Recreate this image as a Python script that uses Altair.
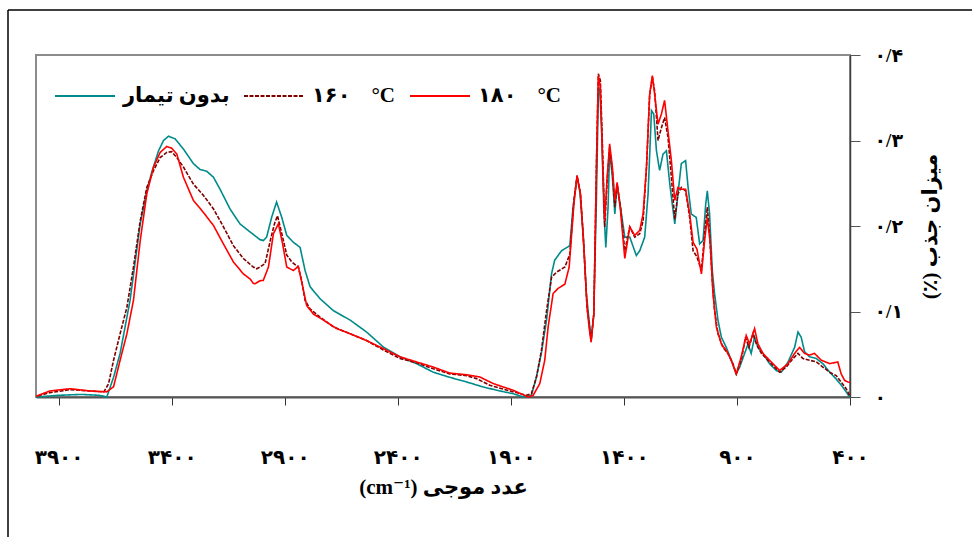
import altair as alt
import pandas as pd

# Absorbance spectra (wavenumber in cm-1, absorbance) for the three samples
WN_NONE = [4000, 3900, 3800, 3720, 3687, 3657, 3628, 3584, 3539, 3510, 3488, 3458, 3436, 3414, 3385, 3348,
           3304, 3274, 3245, 3215, 3186, 3142, 3098, 3053, 3009, 2994, 2980, 2958, 2936, 2913, 2891, 2862,
           2832, 2810, 2788, 2744, 2685, 2611, 2538, 2464, 2390, 2317, 2243, 2170, 2096, 2022, 1949, 1890,
           1845, 1809, 1787, 1765, 1742, 1720, 1706, 1676, 1639, 1625, 1607, 1595, 1580, 1566, 1554, 1545,
           1533, 1521, 1513, 1507, 1499, 1489, 1480, 1470, 1463, 1451, 1440, 1430, 1415, 1396, 1374, 1345,
           1330, 1308, 1293, 1278, 1268, 1256, 1242, 1227, 1212, 1197, 1175, 1161, 1146, 1127, 1116, 1102,
           1080, 1065, 1050, 1038, 1031, 1021, 1009, 999, 984, 969, 947, 925, 903, 888, 866, 851, 837, 822,
           807, 785, 756, 726, 704, 674, 645, 630, 616, 601, 579, 549, 520, 490, 461, 439, 417, 402]
ABS_NONE = [0.0, 0.002, 0.003, 0.002, 0.0, 0.023, 0.051, 0.113, 0.2025, 0.241, 0.263, 0.288, 0.300, 0.305,
            0.302, 0.290, 0.273, 0.266, 0.264, 0.257, 0.243, 0.220, 0.2025, 0.193, 0.184, 0.183, 0.187, 0.210,
            0.228, 0.210, 0.189, 0.181, 0.175, 0.148, 0.129, 0.115, 0.101, 0.090, 0.076, 0.0585, 0.047, 0.039,
            0.029, 0.023, 0.0176, 0.0117, 0.0071, 0.0039, 0.0, 0.002, 0.023, 0.051, 0.090, 0.144, 0.160, 0.171,
            0.177, 0.222, 0.257, 0.241, 0.191, 0.121, 0.090, 0.066, 0.097, 0.2375, 0.354, 0.362, 0.315, 0.222,
            0.175, 0.222, 0.288, 0.257, 0.214, 0.249, 0.222, 0.187, 0.187, 0.1655, 0.171, 0.187, 0.2375, 0.335,
            0.331, 0.288, 0.265, 0.284, 0.288, 0.249, 0.2025, 0.2375, 0.273, 0.2765, 0.245, 0.214, 0.210, 0.179,
            0.183, 0.226, 0.241, 0.214, 0.148, 0.121, 0.090, 0.070, 0.058, 0.043, 0.027, 0.035, 0.051, 0.062,
            0.051, 0.070, 0.058, 0.051, 0.039, 0.031, 0.029, 0.041, 0.058, 0.076, 0.070, 0.053, 0.047, 0.045,
            0.039, 0.029, 0.021, 0.014, 0.006, 0.0]

WN_160 = [4000, 3940, 3850, 3760, 3700, 3679, 3657, 3628, 3598, 3569, 3539, 3510, 3480, 3451, 3422, 3400,
          3377, 3348, 3304, 3260, 3215, 3171, 3127, 3083, 3039, 3024, 3009, 2987, 2980, 2962, 2945, 2932,
          2913, 2891, 2869, 2840, 2825, 2810, 2788, 2744, 2685, 2611, 2538, 2464, 2390, 2317, 2243, 2170,
          2096, 2052, 1993, 1904, 1831, 1809, 1787, 1765, 1742, 1720, 1698, 1661, 1639, 1621, 1607, 1592,
          1577, 1563, 1554, 1545, 1533, 1521, 1513, 1504, 1495, 1485, 1474, 1463, 1451, 1440, 1430, 1415,
          1396, 1374, 1352, 1330, 1315, 1300, 1286, 1274, 1264, 1249, 1234, 1220, 1205, 1190, 1175, 1161,
          1146, 1127, 1109, 1094, 1077, 1057, 1043, 1031, 1021, 1009, 999, 984, 962, 940, 918, 903, 881,
          862, 847, 829, 814, 792, 763, 733, 711, 682, 652, 630, 608, 579, 549, 520, 490, 461, 439, 417, 402]
ABS_160 = [0.0008, 0.005, 0.0086, 0.007, 0.006, 0.0156, 0.043, 0.074, 0.105, 0.152, 0.206, 0.245, 0.265,
           0.280, 0.286, 0.287, 0.280, 0.269, 0.249, 0.236, 0.220, 0.199, 0.177, 0.162, 0.152, 0.150, 0.152,
           0.156, 0.164, 0.185, 0.203, 0.212, 0.191, 0.166, 0.158, 0.152, 0.136, 0.113, 0.103, 0.0935, 0.082,
           0.074, 0.066, 0.055, 0.045, 0.040, 0.033, 0.027, 0.025, 0.0215, 0.0137, 0.0071, 0.0021, 0.004,
           0.023, 0.054, 0.101, 0.140, 0.146, 0.152, 0.167, 0.230, 0.259, 0.2375, 0.175, 0.105, 0.086, 0.066,
           0.097, 0.2765, 0.378, 0.370, 0.296, 0.199, 0.253, 0.292, 0.265, 0.222, 0.249, 0.222, 0.171, 0.199,
           0.187, 0.191, 0.206, 0.269, 0.354, 0.374, 0.358, 0.300, 0.315, 0.327, 0.304, 0.257, 0.208, 0.2375,
           0.245, 0.241, 0.210, 0.171, 0.164, 0.148, 0.191, 0.222, 0.191, 0.136, 0.101, 0.074, 0.058, 0.051,
           0.039, 0.027, 0.043, 0.070, 0.058, 0.074, 0.062, 0.051, 0.043, 0.035, 0.029, 0.035, 0.045, 0.051,
           0.045, 0.043, 0.041, 0.035, 0.029, 0.025, 0.0175, 0.0097, 0.002]

WN_180 = [4000, 3940, 3850, 3760, 3687, 3657, 3628, 3598, 3569, 3539, 3510, 3480, 3451, 3422, 3400, 3377,
          3348, 3304, 3260, 3215, 3171, 3127, 3083, 3053, 3039, 3031, 3009, 2995, 2972, 2950, 2928, 2910,
          2891, 2862, 2840, 2820, 2803, 2773, 2729, 2670, 2611, 2538, 2464, 2390, 2317, 2243, 2170, 2096,
          2037, 1978, 1890, 1824, 1801, 1772, 1750, 1735, 1713, 1691, 1661, 1642, 1621, 1607, 1592, 1577,
          1563, 1554, 1545, 1533, 1521, 1513, 1504, 1495, 1485, 1474, 1463, 1451, 1440, 1430, 1415, 1396,
          1374, 1352, 1330, 1315, 1300, 1286, 1274, 1264, 1249, 1234, 1220, 1205, 1190, 1175, 1161, 1146,
          1127, 1109, 1094, 1077, 1057, 1043, 1031, 1018, 1006, 991, 969, 947, 925, 903, 881, 859, 844, 822,
          807, 785, 756, 711, 674, 645, 623, 601, 579, 557, 527, 490, 454, 439, 424, 409, 400]
ABS_180 = [0.0008, 0.007, 0.0097, 0.007, 0.006, 0.012, 0.043, 0.074, 0.113, 0.183, 0.2375, 0.269, 0.286,
           0.293, 0.291, 0.284, 0.257, 0.230, 0.216, 0.2005, 0.179, 0.158, 0.144, 0.138, 0.133, 0.1325, 0.136,
           0.1363, 0.152, 0.191, 0.2026, 0.180, 0.152, 0.148, 0.1527, 0.1286, 0.107, 0.097, 0.090, 0.080,
           0.074, 0.066, 0.0566, 0.047, 0.041, 0.035, 0.028, 0.026, 0.0234, 0.0157, 0.0079, 0.0, 0.002, 0.0157,
           0.043, 0.082, 0.121, 0.127, 0.132, 0.152, 0.226, 0.259, 0.2375, 0.175, 0.105, 0.082, 0.064, 0.097,
           0.2765, 0.376, 0.362, 0.284, 0.206, 0.257, 0.296, 0.269, 0.230, 0.251, 0.218, 0.162, 0.199, 0.189,
           0.195, 0.214, 0.269, 0.354, 0.376, 0.354, 0.319, 0.331, 0.347, 0.3115, 0.2765, 0.230, 0.245, 0.243,
           0.243, 0.214, 0.181, 0.173, 0.144, 0.183, 0.210, 0.179, 0.121, 0.082, 0.062, 0.0545, 0.043, 0.027,
           0.047, 0.072, 0.062, 0.080, 0.062, 0.051, 0.043, 0.031, 0.039, 0.051, 0.058, 0.051, 0.049, 0.051,
           0.043, 0.039, 0.041, 0.027, 0.0195, 0.0175, 0.017]

NBSP = "\u00a0"
SERIES = ["بدون تیمار", "۱۶۰" + NBSP * 4 + "°C", "۱۸۰" + NBSP * 4 + "°C"]
COLORS = ["#008b8b", "#800000", "#ff0000"]
DASHES = [[1, 0], [4, 1.5], [1, 0]]

X_TICKS = [3900, 3400, 2900, 2400, 1900, 1400, 900, 400]
X_TICK_LABELS = ["۳۹۰۰", "۳۴۰۰", "۲۹۰۰", "۲۴۰۰", "۱۹۰۰", "۱۴۰۰", "۹۰۰", "۴۰۰"]
Y_TICKS = [0, 0.1, 0.2, 0.3, 0.4]
Y_TICK_LABELS = ["۰", "۰/۱", "۰/۲", "۰/۳", "۰/۴"]

X_TITLE = "(cm⁻¹) عدد موجی"
Y_TITLE = "(٪) میزان جذب"

frames = []
for name, wn, ab in [(SERIES[0], WN_NONE, ABS_NONE), (SERIES[1], WN_160, ABS_160), (SERIES[2], WN_180, ABS_180)]:
    frames.append(pd.DataFrame({"wavenumber": wn, "absorbance": ab, "sample": name}))
df = pd.concat(frames, ignore_index=True)


def ternary_labels(values, labels, expr_value):
    parts = [f"{expr_value} == {v} ? '{l}'" for v, l in zip(values, labels)]
    return " : ".join(parts) + " : ''"


x_label_expr = ternary_labels(X_TICKS, X_TICK_LABELS, "datum.value")
y_label_expr = ternary_labels([round(v * 10) for v in Y_TICKS], Y_TICK_LABELS, "round(datum.value * 10)")

SERIF = "Liberation Serif, Times New Roman, DejaVu Sans"

lines = alt.Chart(df).mark_line(strokeWidth=1.6, interpolate="linear").encode(
    x=alt.X("wavenumber:Q",
            scale=alt.Scale(domain=[400, 4000], reverse=True, nice=False, zero=False),
            axis=alt.Axis(values=X_TICKS, labelExpr=x_label_expr, title=X_TITLE, grid=False,
                          tickSize=8, tickColor="#333333", domainColor="#555555", domainWidth=2,
                          labelPadding=42, labelFont=SERIF, labelFontSize=20, labelFontWeight="bold",
                          labelColor="black", titleFont=SERIF, titleFontSize=21, titleFontWeight="bold",
                          titleColor="black", titlePadding=9, labelFlush=False)),
    y=alt.Y("absorbance:Q",
            scale=alt.Scale(domain=[0, 0.4], nice=False),
            axis=alt.Axis(orient="right", values=Y_TICKS, labelExpr=y_label_expr, title=Y_TITLE,
                          grid=False, tickSize=10, tickColor="#555555", domainColor="#404040",
                          domainWidth=1.5, labelPadding=14, labelFont=SERIF, labelFontSize=19,
                          labelFontWeight="bold", labelColor="black", labelAlign="left",
                          titleFont=SERIF, titleFontSize=21, titleFontWeight="bold", titleColor="black",
                          titleAngle=270, titlePadding=38, labelFlush=False)),
    color=alt.Color("sample:N", scale=alt.Scale(domain=SERIES, range=COLORS),
                    legend=alt.Legend(title=None, orient="none", legendX=18, legendY=10,
                                      direction="horizontal", symbolType="stroke", symbolSize=3600,
                                      symbolStrokeWidth=2, labelFont=SERIF, labelFontSize=21,
                                      labelFontWeight="bold", labelColor="black", labelOffset=7,
                                      columnPadding=10, padding=0, labelLimit=300)),
    strokeDash=alt.StrokeDash("sample:N", scale=alt.Scale(domain=SERIES, range=DASHES), legend=None),
    order=alt.Order("wavenumber:Q"),
)

anchor = pd.DataFrame({"k": [0]})
frame_left = alt.Chart(anchor).mark_rule(color="black", strokeWidth=1.5).encode(
    x=alt.value(-28), y=alt.value(-45), y2=alt.value(500))
frame_top = alt.Chart(anchor).mark_rule(color="black", strokeWidth=1.5).encode(
    x=alt.value(-28), x2=alt.value(950), y=alt.value(-45))

chart = alt.layer(lines, frame_left, frame_top).properties(
    width=814, height=342,
    autosize=alt.AutoSizeParams(type="none"),
    padding={"left": 36, "top": 55, "right": 122, "bottom": 140},
    background="white",
).configure_view(stroke="#8c8c8c", strokeWidth=2)

chart.save("out.html", embed_options={"renderer": "svg", "actions": False})
